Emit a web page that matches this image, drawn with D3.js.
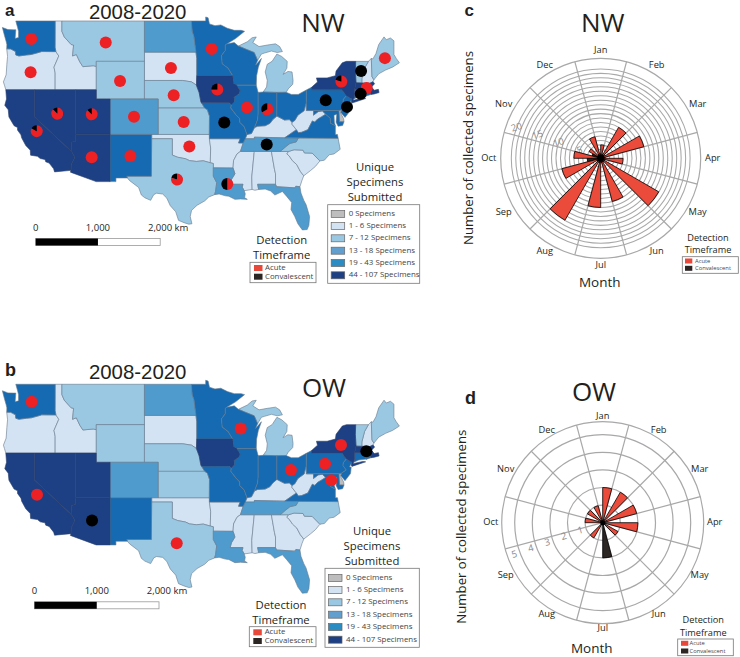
<!DOCTYPE html>
<html><head><meta charset="utf-8">
<script src="https://cdnjs.cloudflare.com/ajax/libs/d3/7.8.5/d3.min.js"></script>
<style>html,body{margin:0;padding:0;background:#fff}svg{display:block}text{font-family:"Open Sans",sans-serif;fill:#231f20}</style>
</head><body><svg id="c" width="740" height="657"></svg>
<script>
// ---- state outlines, [lon, lat]
const WA=[[-124.7,48.38],[-123.9,48.17],[-123.1,48.15],[-122.75,48.15],[-122.85,47.3],[-122.35,47.4],[-122.35,48.0],[-122.5,48.4],[-122.75,49],[-117.03,49],[-117.04,46.42],[-116.92,45.99],[-118.98,46.0],[-119.3,45.93],[-120.5,45.7],[-121.2,45.65],[-122.3,45.55],[-122.75,45.65],[-122.8,46.0],[-123.2,46.15],[-123.5,46.26],[-124.07,46.27],[-124.05,46.7],[-124.15,47.0],[-124.4,47.6]];
const OR=[[-124.07,46.27],[-123.5,46.26],[-123.2,46.15],[-122.8,46.0],[-122.75,45.65],[-122.3,45.55],[-121.2,45.65],[-120.5,45.7],[-119.3,45.93],[-118.98,46.0],[-116.92,45.99],[-116.5,45.55],[-117.2,44.4],[-117.03,43.8],[-117.03,42],[-124.2,42],[-124.4,42.5],[-124.55,42.85],[-124.15,43.6],[-124.05,44.7],[-123.95,45.5]];
const ID=[[-117.03,49],[-116.05,49],[-116.05,48],[-115.7,47.45],[-114.7,46.7],[-114.35,46.65],[-114.5,45.55],[-113.95,45.7],[-113.45,44.95],[-113,44.45],[-111.5,44.55],[-111.05,44.48],[-111.05,42],[-117.03,42],[-117.03,43.8],[-117.2,44.4],[-116.5,45.55],[-116.92,45.99],[-117.04,46.42]];
const MT=[[-116.05,49],[-104.05,49],[-104.05,45],[-111.05,45],[-111.05,44.48],[-111.5,44.55],[-113,44.45],[-113.45,44.95],[-113.95,45.7],[-114.5,45.55],[-114.35,46.65],[-114.7,46.7],[-115.7,47.45],[-116.05,48]];
const WY=[[-111.05,45],[-104.05,45],[-104.05,41],[-111.05,41]];
const UT=[[-114.05,42],[-111.05,42],[-111.05,41],[-109.05,41],[-109.05,37],[-114.05,37]];
const NV=[[-120,42],[-114.05,42],[-114.05,36.2],[-114.7,36.1],[-114.65,35],[-120,39]];
const CA=[[-124.2,42],[-120,42],[-120,39],[-114.65,35],[-114.15,34.3],[-114.7,33.4],[-114.72,32.72],[-117.12,32.53],[-117.25,32.9],[-117.9,33.6],[-118.4,33.75],[-118.5,34.03],[-119.2,34.15],[-119.6,34.42],[-120.6,34.55],[-120.65,35.15],[-121.3,35.7],[-121.9,36.6],[-122,36.95],[-122.5,37.5],[-122.5,37.8],[-123,38],[-123.75,39],[-123.85,39.8],[-124.35,40.3],[-124.1,41]];
const AZ=[[-114.05,37],[-109.05,37],[-109.05,31.33],[-111.07,31.33],[-114.82,32.5],[-114.72,32.72],[-114.7,33.4],[-114.15,34.3],[-114.65,35],[-114.7,36.1],[-114.05,36.2]];
const CO=[[-109.05,41],[-102.05,41],[-102.05,37],[-109.05,37]];
const NM=[[-109.05,37],[-103,37],[-103.05,32],[-106.62,32],[-106.53,31.78],[-108.2,31.78],[-108.2,31.33],[-109.05,31.33]];
const ND=[[-104.05,49],[-97.23,49],[-97.1,48],[-96.85,47.5],[-96.56,45.94],[-104.05,45.94]];
const SD=[[-104.05,45.94],[-96.56,45.94],[-96.45,45.3],[-96.45,43.5],[-96.5,42.5],[-97.2,42.85],[-98.5,43],[-104.05,43]];
const NE=[[-104.05,43],[-98.5,43],[-97.2,42.85],[-96.5,42.5],[-96.1,41.7],[-95.85,40.7],[-95.3,40],[-102.05,40],[-102.05,41],[-104.05,41]];
const KS=[[-102.05,40],[-95.3,40],[-94.9,39.8],[-94.6,39.1],[-94.62,37],[-102.05,37]];
const OK=[[-103,37],[-94.62,37],[-94.43,35.4],[-94.48,33.64],[-95.5,33.88],[-96.5,33.8],[-97.5,33.9],[-98.1,34.13],[-99.2,34.3],[-100,34.56],[-100,36.5],[-103,36.5]];
const TX=[[-103,36.5],[-100,36.5],[-100,34.56],[-99.2,34.3],[-98.1,34.13],[-97.5,33.9],[-96.5,33.8],[-95.5,33.88],[-94.48,33.64],[-94.04,33.55],[-94.04,33.02],[-94.04,32],[-93.55,31.2],[-93.72,30.1],[-93.85,29.7],[-94.7,29.4],[-95.3,28.9],[-96.4,28.35],[-97.2,27.7],[-97.4,26.9],[-97.15,25.96],[-97.6,25.9],[-98.3,26.1],[-99.1,26.4],[-99.5,27.5],[-100.3,28.3],[-100.8,29.25],[-101.4,29.77],[-102.3,29.88],[-102.7,29.7],[-103.15,28.98],[-104,29.3],[-104.5,29.65],[-104.9,30.6],[-106.2,31.45],[-106.53,31.78],[-106.62,32],[-103.05,32]];
const MN=[[-97.23,49],[-95.15,49],[-95.15,49.38],[-94.8,49.3],[-94.6,48.72],[-93.8,48.55],[-92.95,48.62],[-92,48.3],[-91,48.1],[-90,48.1],[-89.5,48],[-90.8,47.3],[-92.1,46.75],[-92.3,46.66],[-92.3,46.1],[-92.85,45.6],[-92.75,44.75],[-91.9,44.3],[-91.22,43.5],[-96.45,43.5],[-96.45,45.3],[-96.56,45.94],[-96.85,47.5],[-97.1,48]];
const IA=[[-96.45,43.5],[-91.22,43.5],[-91.1,42.7],[-90.65,42.5],[-90.15,41.9],[-90.35,41.55],[-91.05,41.2],[-91,40.7],[-91.42,40.38],[-91.73,40.6],[-95.77,40.58],[-95.85,40.7],[-96.1,41.7],[-96.5,42.5]];
const MO=[[-95.77,40.58],[-91.73,40.6],[-91.42,40.38],[-91.5,40],[-90.75,39.25],[-90.2,38.8],[-90.2,38.4],[-89.55,37.9],[-89.15,37],[-89.4,36.5],[-89.7,36],[-90.37,36],[-90.15,36.5],[-94.62,36.5],[-94.62,37],[-94.6,39.1],[-94.9,39.8],[-95.3,40]];
const AR=[[-94.62,36.5],[-90.15,36.5],[-90.37,36],[-89.7,36],[-90.1,35],[-90.6,34.7],[-91.1,33.9],[-91.17,33],[-94.04,33.02],[-94.04,33.55],[-94.48,33.64],[-94.43,35.4]];
const LA=[[-94.04,33.02],[-91.17,33],[-90.9,32.3],[-91.4,31.6],[-91.6,31],[-89.73,31],[-89.85,30.65],[-89.55,30.2],[-89.4,29.8],[-89.5,29.3],[-89.1,29.1],[-90.1,29.15],[-90.9,29.1],[-91.8,29.5],[-92.3,29.55],[-93.2,29.78],[-93.85,29.7],[-93.72,30.1],[-93.55,31.2],[-94.04,32]];
const MS=[[-90.1,35],[-88.2,35],[-88.1,34.9],[-88.45,31.9],[-88.4,30.35],[-89.55,30.2],[-89.85,30.65],[-89.73,31],[-91.6,31],[-91.4,31.6],[-90.9,32.3],[-91.17,33],[-91.1,33.9],[-90.6,34.7]];
const AL=[[-88.2,35],[-85.6,35],[-85.15,32.85],[-85,32.3],[-85,31],[-87.6,31],[-87.45,30.35],[-88,30.25],[-88.4,30.35],[-88.45,31.9],[-88.1,34.9]];
const GA=[[-85.6,35],[-83.1,35],[-83.35,34.7],[-83,34.45],[-82.55,33.9],[-81.9,33.4],[-81.4,32.6],[-80.9,32.05],[-81.15,31.5],[-81.45,30.7],[-82.05,30.75],[-82.2,30.55],[-84.86,30.7],[-85,31],[-85,32.3],[-85.15,32.85]];
const FL=[[-87.6,31],[-85,31],[-84.86,30.7],[-82.2,30.55],[-82.05,30.75],[-81.45,30.7],[-81.3,29.9],[-80.9,29],[-80.55,28.4],[-80.05,26.9],[-80.15,25.75],[-80.4,25.2],[-81.1,25.15],[-81.75,25.95],[-82.2,26.9],[-82.75,27.8],[-82.65,28.7],[-83.4,29.5],[-84,30.1],[-85.1,29.65],[-85.7,30.15],[-86.5,30.4],[-87.45,30.35]];
const SC=[[-83.35,34.7],[-83.1,35],[-82.3,35.2],[-81,35.15],[-80.8,34.82],[-79.67,34.8],[-78.55,33.86],[-79.2,33.2],[-79.9,32.7],[-80.9,32.05],[-81.4,32.6],[-81.9,33.4],[-82.55,33.9],[-83,34.45]];
const NC=[[-84.32,35],[-83.1,35],[-82.3,35.2],[-81,35.15],[-80.8,34.82],[-79.67,34.8],[-78.55,33.86],[-77.9,33.95],[-77.2,34.6],[-76.5,34.7],[-75.6,35.25],[-75.9,36.55],[-81.68,36.59],[-82,36.12],[-82.9,35.95],[-83.5,35.57]];
const TN=[[-90.1,35],[-84.32,35],[-83.5,35.57],[-82.9,35.95],[-82,36.12],[-81.68,36.59],[-83.68,36.6],[-88.07,36.68],[-88.07,36.5],[-89.4,36.5],[-89.7,36]];
const KY=[[-89.4,36.5],[-88.07,36.5],[-88.07,36.68],[-83.68,36.6],[-82.6,37.2],[-81.97,37.54],[-82.6,38.17],[-82.6,38.4],[-83,38.7],[-83.7,38.65],[-84.8,39.1],[-85.4,38.7],[-85.8,38.28],[-86.5,38],[-87.6,37.95],[-88.05,37.8],[-88.5,37.1],[-89.15,37]];
const WV=[[-81.97,37.54],[-82.6,38.17],[-82.6,38.4],[-82.2,38.6],[-81.75,39.2],[-80.85,39.7],[-80.52,40.64],[-80.52,39.72],[-79.48,39.72],[-79.48,39.2],[-78.8,39.6],[-78.2,39.68],[-77.72,39.32],[-78.35,39],[-78.87,38.77],[-79.3,38.42],[-79.65,38.55],[-80.3,37.55],[-81.2,37.25],[-81.68,37.2]];
const VA=[[-83.68,36.6],[-75.9,36.55],[-76,37],[-76.3,37],[-76.3,38],[-77,38.3],[-77.05,38.85],[-77.72,39.32],[-78.35,39],[-78.87,38.77],[-79.3,38.42],[-79.65,38.55],[-80.3,37.55],[-81.2,37.25],[-81.68,37.2],[-81.97,37.54],[-82.6,37.2]];
const MD=[[-79.48,39.72],[-75.79,39.72],[-75.7,38.46],[-75.05,38.45],[-75.25,38.03],[-75.9,37.95],[-76.2,38.4],[-76.1,39.3],[-76.5,39.2],[-76.45,38.4],[-76.3,38],[-77,38.3],[-77.05,38.85],[-77.72,39.32],[-78.2,39.68],[-78.8,39.6],[-79.48,39.2]];
const DE=[[-75.79,39.72],[-75.42,39.8],[-75.55,39.45],[-75.1,38.8],[-75.05,38.45],[-75.7,38.46]];
const PA=[[-80.52,41.98],[-79.76,42.27],[-79.76,42],[-75.35,42],[-74.7,41.36],[-75.13,40.98],[-75.2,40.65],[-74.72,40.15],[-75.42,39.8],[-75.79,39.72],[-80.52,39.72]];
const NJ=[[-74.7,41.36],[-73.9,41],[-74.25,40.5],[-74,40.45],[-74.1,39.75],[-74.9,38.95],[-75.5,39.5],[-75.42,39.8],[-74.72,40.15],[-75.2,40.65],[-75.13,40.98]];
const NY=[[-79.76,42],[-79.76,42.27],[-78.9,42.85],[-79.05,43.27],[-77.5,43.27],[-76.3,43.5],[-76.2,44],[-75.3,44.85],[-74.7,45],[-73.35,45],[-73.4,44],[-73.3,42.75],[-73.5,42.05],[-73.5,41.3],[-73.65,41],[-73.75,40.85],[-72.3,41.1],[-71.9,41.05],[-73.9,40.55],[-74,40.7],[-73.9,41],[-74.7,41.36],[-75.35,42]];
const VT=[[-73.35,45],[-71.5,45],[-72.05,44.3],[-72.45,43.2],[-72.46,42.73],[-73.3,42.75],[-73.4,44]];
const NH=[[-71.5,45],[-71.08,45.3],[-70.98,43.4],[-70.7,43.07],[-70.82,42.87],[-71.3,42.7],[-72.46,42.73],[-72.45,43.2],[-72.05,44.3]];
const ME=[[-71.08,45.3],[-70.85,45.25],[-70.4,45.8],[-70,46.7],[-69.23,47.46],[-68.9,47.18],[-68.3,47.35],[-67.79,47.07],[-67.79,45.7],[-67.45,45.3],[-67,44.85],[-68,44.4],[-69,44.1],[-70,43.7],[-70.7,43.07],[-70.98,43.4]];
const MA=[[-73.5,42.05],[-73.3,42.75],[-71.3,42.7],[-70.82,42.87],[-70.6,42.65],[-71.05,42.3],[-70.65,41.95],[-70.05,42.05],[-69.95,41.7],[-70.65,41.55],[-71.12,41.5],[-71.38,42.02],[-71.8,42.02]];
const CT=[[-73.5,42.05],[-71.8,42.02],[-71.8,41.35],[-72.9,41.25],[-73.65,41],[-73.5,41.3]];
const RI=[[-71.8,42.02],[-71.38,42.02],[-71.12,41.5],[-71.85,41.32]];
const MIL=[[-86.8,41.76],[-84.8,41.72],[-83.45,41.73],[-83.15,42.1],[-82.5,42.6],[-82.45,43],[-82.6,43.9],[-83.2,43.95],[-83.9,43.65],[-83.35,44.3],[-83.3,45],[-84.1,45.5],[-84.8,45.75],[-85.5,45],[-86.2,44.7],[-86.5,43.9],[-86.2,43],[-86.3,42.3]];
const MIU=[[-90.4,46.55],[-89.1,46.98],[-88.4,47.38],[-87.8,47.45],[-88.3,46.9],[-87.4,46.5],[-86.2,46.65],[-85,46.77],[-84.4,46.5],[-84,46],[-84.75,45.9],[-85.6,46.05],[-86.6,45.85],[-87.05,45.75],[-87.6,45.1],[-88.1,45.9],[-89,46.15]];
const WI=[[-92.3,46.66],[-92.1,46.75],[-91,46.9],[-90.4,46.55],[-89,46.15],[-88.1,45.9],[-87.6,45.1],[-87.9,44.6],[-87.05,45.3],[-87.5,44.4],[-87.75,43.5],[-87.8,42.5],[-90.65,42.5],[-91.1,42.7],[-91.22,43.5],[-91.9,44.3],[-92.75,44.75],[-92.85,45.6],[-92.3,46.1]];
const IL=[[-90.65,42.5],[-87.8,42.5],[-87.53,41.72],[-87.53,39.35],[-87.6,38.7],[-88.05,37.8],[-88.5,37.1],[-89.15,37],[-89.55,37.9],[-90.2,38.4],[-90.2,38.8],[-90.75,39.25],[-91.5,40],[-91.42,40.38],[-91,40.7],[-91.05,41.2],[-90.35,41.55],[-90.15,41.9]];
const IN=[[-87.53,41.72],[-86.8,41.76],[-84.8,41.72],[-84.8,39.1],[-85.4,38.7],[-85.8,38.28],[-86.5,38],[-87.6,37.95],[-88.05,37.8],[-87.6,38.7],[-87.53,39.35]];
const OH=[[-84.8,41.72],[-83.45,41.73],[-82.7,41.5],[-81.7,41.5],[-80.52,41.98],[-80.52,40.64],[-80.85,39.7],[-81.75,39.2],[-82.2,38.6],[-82.6,38.4],[-83,38.7],[-83.7,38.65],[-84.8,39.1]];

// ---- specimen class of every state (index into classLabels)
const class0=[DE];
const class1=[OR,ID,SD,OK,AR,KY,MS,AL,GA,SC,WV,NH];
const class2=[MT,WY,NE,KS,TX,MIL,MIU,NC,VT,ME];
const class3=[ND,CO,LA,TN,FL];
const class4=[WA,NM,MN,MO,WI,IL,IN,OH,VA,PA,MD,NJ,CT,RI];
const class5=[CA,NV,UT,AZ,IA,NY,MA];
const stateClasses=[class0,class1,class2,class3,class4,class5];
const classColors=["#bdbdbd","#d3e3f4","#9ac8e3","#4f9bcd","#166ab1","#1c4083"];
const legendColors=["#bdbdbd","#d3e3f4","#9ac8e3","#629fce","#2a8cc2","#1c4083"];
const classLabels=["0 Specimens","1 - 6 Specimens","7 - 12 Specimens","13 - 18 Specimens","19 - 43 Specimens","44 - 107 Specimens"];

// ---- pies: [lon, lat, acute, convalescent]
const piesNW=[[-120.5,47.24,1,0],[-120.6,43.86,1,0],[-109.68,46.9,1,0],[-107.6,42.94,1,0],[-100.2,44.32,1,0],[-99.8,41.42,1,0],[-98.35,38.44,1,0],[-97.53,35.58,1,0],[-105.57,39.03,1,0],[-106.1,34.45,1,0],[-111.72,34.3,1,0],[-111.72,39.31,7,1],[-116.72,39.38,7,1],[-119.71,37.38,5,1],[-99.32,31.58,4,1],[-94.28,46.25,1,0],[-93.46,42.03,3,1],[-92.45,38.37,0,1],[-89.15,40.06,1,0],[-86.2,39.87,2,1],[-92.01,31.04,1,1],[-86.28,35.82,0,1],[-77.7,40.85,0,1],[-75.44,42.88,4,1],[-72.57,44,0,1],[-69.1,45.33,1,0],[-71.75,42.2,1,0],[-72.62,41.56,0,1],[-74.61,40.13,0,1]];
const piesOW=[[-120.45,47.3,1,0],[-90.06,44.6,1,0],[-75.48,42.88,1,0],[-71.8,42.2,0,1],[-82.75,40.15,1,0],[-77.8,40.85,1,0],[-76.9,39,1,0],[-119.67,37.35,1,0],[-111.67,34.3,0,1],[-99.36,31.55,1,0]];
const pieColors=["#ed2024","#000000"];

// ---- polar charts
const months=["Jan","Feb","Mar","Apr","May","Jun","Jul","Aug","Sep","Oct","Nov","Dec"];
const acuteNW=[3,8,10,5,15,10,11,16,9,6,3,5];
const convNW=[1,1,1,1,1,1,1,1,1,3,2,1];
const acuteOW=[2,2,2,2,1,0,0,1,0,1,1,1];
const convOW=[0,0,0,0,0,0,2,0,0,0,0,0];
const ringsNW=d3.range(1,21), ticksNW=[5,10,15,20];
const ringsOW=[1,2,3,4,5], ticksOW=[1,2,3,4,5];
const detectLabels=["Acute","Convalescent"];
const detectColors=["#e8483a","#2b2523"];

const svg=d3.select("#c");
function txt(g,s,x,y,size,o={}){
  return g.append("text").attr("x",x).attr("y",y).attr("font-size",size)
    .attr("text-anchor",o.anchor||"middle").attr("dominant-baseline",o.base||"auto")
    .attr("font-weight",o.weight||null)
    .attr("transform",o.rotate!==undefined?`rotate(${o.rotate} ${x} ${y})`:null)
    .style("fill",o.fill||null).style("font-family",o.family||null).text(s);
}

function drawMap(o){
  const g=svg.append("g");
  const proj=d3.geoMercator().scale(394.2).center([-111.05,41]).translate([96.3,o.y41]);
  const line=d3.line().curve(d3.curveLinearClosed);
  stateClasses.forEach((list,i)=>list.forEach(s=>{
    g.append("path").attr("d",line(s.map(p=>proj(p))))
     .attr("fill",classColors[i]).attr("stroke",i==5?"#2b3f6b":"#66798c").attr("stroke-width",0.6).attr("stroke-linejoin","round");
  }));
  const pie=d3.pie().sort(null), arc=d3.arc().innerRadius(0).outerRadius(6);
  o.pies.forEach(d=>{
    const [x,y]=proj([d[0],d[1]]);
    g.append("g").attr("transform",`translate(${x},${y})`).selectAll("path")
     .data(pie([d[2],d[3]])).join("path").attr("d",arc).attr("fill",(e,i)=>pieColors[i]);
  });
  // scale bar
  const km=d3.scaleLinear().domain([0,2000]).range([o.barX,o.barX+124.5]);
  const barY=o.barY;
  g.append("rect").attr("x",km(0)).attr("y",barY).attr("width",km(2000)-km(0)).attr("height",7).attr("fill","#fff").attr("stroke","#999").attr("stroke-width",0.8);
  g.append("rect").attr("x",km(0)).attr("y",barY).attr("width",km(1000)-km(0)).attr("height",7).attr("fill","#000");
  [[0,"0",0],[1000,"1,000",0],[2000,"2,000 km",8]].forEach(t=>txt(g,t[1],km(t[0])+t[2],barY-10.5,9.5,{base:"middle"}));
  // class legend
  const L=o.legend;
  L.title.forEach((t,i)=>txt(g,t,L.titleX,L.titleY[i],11.3,{base:"middle"}));
  g.append("rect").attr("x",L.x).attr("y",L.y).attr("width",L.w).attr("height",L.h).attr("fill","#fff").attr("stroke","#777").attr("stroke-width",0.8);
  classLabels.forEach((t,i)=>{
    g.append("rect").attr("x",L.x+3.5).attr("y",L.rows[i]-3.5).attr("width",13.5).attr("height",7).attr("fill",legendColors[i]).attr("stroke","#666").attr("stroke-width",0.7);
    txt(g,t,L.x+21,L.rows[i],7.9,{anchor:"start",base:"middle",fill:"#444"});
  });
  detect(g,o.detect);
}
function detect(g,D){
  D.titleY.forEach((y,i)=>txt(g,["Detection","Timeframe"][i],D.titleX,y,D.titleSize,{base:"middle"}));
  g.append("rect").attr("x",D.x).attr("y",D.y).attr("width",D.w).attr("height",D.h).attr("fill","#fff").attr("stroke","#777").attr("stroke-width",0.8);
  detectLabels.forEach((t,i)=>{
    g.append("rect").attr("x",D.swX).attr("y",D.rows[i]-D.swH/2).attr("width",D.swW).attr("height",D.swH).attr("fill",detectColors[i]);
    txt(g,t,D.txX,D.rows[i],D.size,{anchor:"start",base:"middle",fill:"#444"});
  });
}
function drawPolar(o){
  const g=svg.append("g").attr("transform",`translate(${o.cx},${o.cy})`);
  const r=d3.scaleLinear().domain([0,o.rings[o.rings.length-1]]).range([0,o.rMax]);
  const grid="#a8a8a8";
  o.rings.forEach(v=>g.append("circle").attr("r",r(v)).attr("fill","none").attr("stroke",grid).attr("stroke-width",o.ringW));
  g.append("circle").attr("r",o.outer).attr("fill","none").attr("stroke",grid).attr("stroke-width",1.2);
  const ang=d3.scaleLinear().domain([0,12]).range([0,2*Math.PI]);
  months.forEach((m,i)=>{
    const a=ang(i)+Math.PI/12;
    g.append("line").attr("x2",o.outer*Math.sin(a)).attr("y2",-o.outer*Math.cos(a)).attr("stroke",grid).attr("stroke-width",1.2);
  });
  months.forEach((m,i)=>{
    const a=ang(i);
    txt(g,m,o.labelRx*Math.sin(a),-o.labelRy*Math.cos(a),9.3,{base:"middle"});
  });
  const ta=o.tickAngle*Math.PI/180;
  o.ticks.forEach(v=>{
    const R=r(v)+o.tickPad;
    txt(g,String(v),R*Math.sin(ta),-R*Math.cos(ta),o.tickSize,{base:"middle",fill:"#8a8a8a",rotate:o.tickRot});
  });
  const arc=d3.arc().innerRadius(0);
  const half=Math.PI/12;
  o.conv.forEach((v,i)=>{ if(!v)return;
    g.append("path").attr("d",arc({outerRadius:r(v),startAngle:ang(i)-half,endAngle:ang(i)})).attr("fill",detectColors[1]).attr("stroke","#000").attr("stroke-width",0.8);
  });
  o.acute.forEach((v,i)=>{ if(!v)return;
    g.append("path").attr("d",arc({outerRadius:r(v),startAngle:ang(i),endAngle:ang(i)+half})).attr("fill","#ea4b3a").attr("stroke","#000").attr("stroke-width",0.8);
  });
  g.append("circle").attr("r",o.hub).attr("fill","#000");
  const p=svg.append("g");
  txt(p,"Number of collected specimens",o.yLab[0],o.yLab[1],13.2,{rotate:-90});
  txt(p,"Month",o.mLab[0],o.mLab[1],13.5);
  detect(p,o.detect);
}

drawMap({y41:99,pies:piesNW,barX:35.7,barY:238.5,
  legend:{x:327.7,y:204.7,w:92,h:78.6,rows:[214,226,238.3,250.7,263,275.3],title:["Unique","Specimens","Submitted"],titleX:375,titleY:[168,183,198]},
  detect:{titleX:281.7,titleY:[240.7,256],titleSize:11.3,x:250,y:262.3,w:66,h:20.4,rows:[268,276.7],swX:254,swW:8.5,swH:6,txX:265,size:7.8}});
drawMap({y41:462.3,pies:piesOW,barX:34.5,barY:601.8,
  legend:{x:325,y:568.3,w:94.3,h:79,rows:[578,590,602.3,614.7,627,639.7],title:["Unique","Specimens","Submitted"],titleX:372,titleY:[532,547,561.7]},
  detect:{titleX:281,titleY:[605.7,620.7],titleSize:11.3,x:249.3,y:626.7,w:66.7,h:20,rows:[632.3,641],swX:253.3,swW:8.5,swH:6,txX:264.7,size:7.8}});

drawPolar({cx:600.7,cy:158.3,rings:ringsNW,ticks:ticksNW,rMax:89.4,outer:100,ringW:1.05,labelRx:112,labelRy:107.5,tickAngle:290,tickPad:0,tickRot:-18,tickSize:9.5,hub:3.5,
  acute:acuteNW,conv:convNW,yLab:[472.5,148],mLab:[599.7,286.5],
  detect:{titleX:708,titleY:[238.7,250.7],titleSize:9.2,x:682.3,y:256.7,w:56,h:16.6,rows:[261,268.3],swX:685,swW:7.3,swH:5,txX:695,size:5.8}});
drawPolar({cx:602.7,cy:522.7,rings:ringsOW,ticks:ticksOW,rMax:88,outer:101,ringW:1.2,labelRx:112,labelRy:106,tickAngle:250,tickPad:6,tickRot:-15,tickSize:9.5,hub:2.5,
  acute:acuteOW,conv:convOW,yLab:[466,526.7],mLab:[591.7,653],
  detect:{titleX:703.3,titleY:[620.7,633.3],titleSize:9.2,x:677.7,y:639,w:55.6,h:16.7,rows:[643.3,651],swX:681,swW:7.3,swH:5,txX:689.5,size:5.8}});

// titles
const labelFont="Liberation Sans";
txt(svg,"a",5,15.6,17,{anchor:"start",weight:700,family:labelFont});
txt(svg,"b",5,376,18,{anchor:"start",weight:700,family:labelFont});
txt(svg,"c",464.5,15.6,17,{anchor:"start",weight:700,family:labelFont});
txt(svg,"d",465,404,18,{anchor:"start",weight:700,family:labelFont});
txt(svg,"2008-2020",137.7,18.6,20.4,{family:labelFont});
txt(svg,"2008-2020",137.7,379.3,20.4,{family:labelFont});
txt(svg,"NW",323,31.7,26);
txt(svg,"OW",324,396.7,26);
txt(svg,"NW",602.7,31.7,26);
txt(svg,"OW",594,401,26);
</script></body></html>
